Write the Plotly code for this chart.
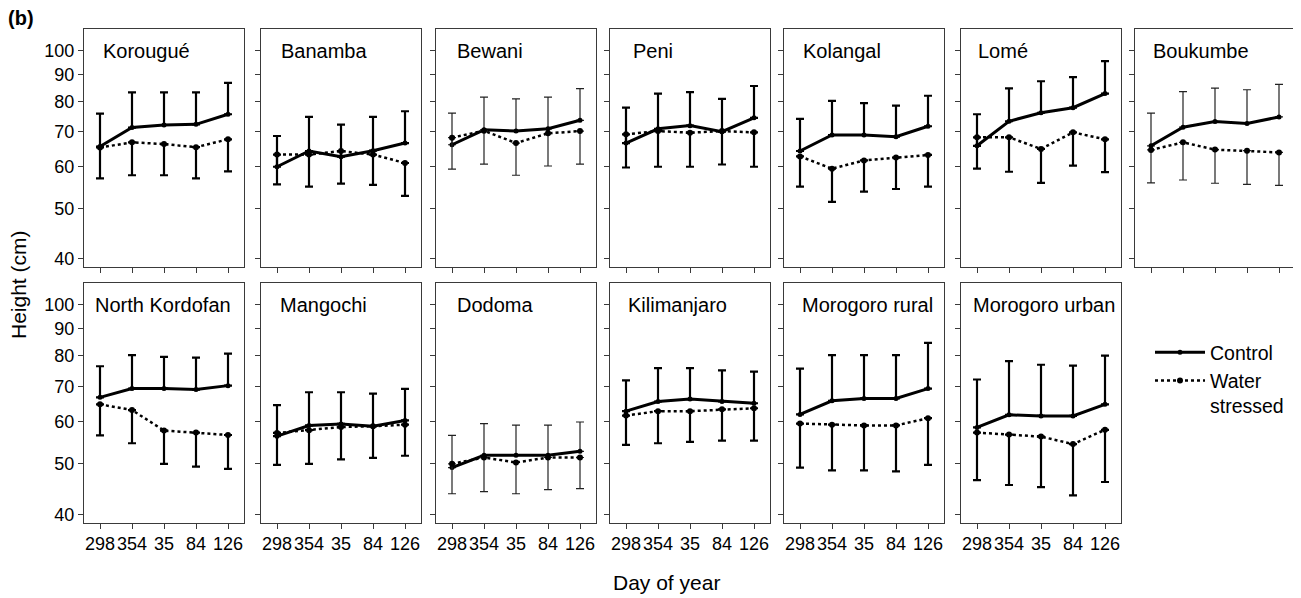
import math
import plotly.graph_objects as go

# ---------------- data ----------------
days = ["298", "354", "35", "84", "126"]
sites = ["Korougué", "Banamba", "Bewani", "Peni", "Kolangal", "Lomé", "Boukumbe",
         "North Kordofan", "Mangochi", "Dodoma", "Kilimanjaro", "Morogoro rural", "Morogoro urban"]

control_mean = [
    [65.6, 71.3, 72.1, 72.3, 75.6],
    [60.0, 64.3, 62.7, 64.4, 66.6],
    [66.1, 70.6, 70.2, 70.9, 73.6],
    [66.6, 70.9, 71.9, 70.0, 74.4],
    [64.3, 69.0, 69.0, 68.5, 71.7],
    [65.8, 73.3, 76.1, 77.8, 82.8],
    [65.8, 71.4, 73.2, 72.6, 74.7],
    [66.7, 69.3, 69.3, 69.0, 70.2],
    [56.3, 59.0, 59.4, 58.8, 60.3],
    [49.1, 51.8, 51.8, 51.8, 52.7],
    [62.8, 65.5, 66.2, 65.5, 65.0],
    [61.9, 65.7, 66.4, 66.4, 69.3],
    [58.5, 61.8, 61.5, 61.5, 64.7],
]
control_upper = [
    [75.8, 83.2, 83.2, 83.2, 86.8],
    [68.7, 74.7, 72.2, 74.7, 76.6],
    [76.0, 81.5, 80.9, 81.5, 84.6],
    [77.8, 82.8, 83.3, 80.9, 85.6],
    [74.1, 80.2, 79.4, 78.5, 82.0],
    [75.6, 84.7, 87.4, 89.0, 95.5],
    [76.0, 83.5, 84.8, 84.2, 86.2],
    [76.4, 80.2, 79.6, 79.3, 80.7],
    [64.5, 68.2, 68.2, 67.8, 69.2],
    [56.5, 59.5, 59.1, 59.1, 59.9],
    [71.8, 75.8, 75.8, 75.0, 74.6],
    [75.6, 80.2, 80.2, 80.2, 84.6],
    [72.1, 78.1, 76.9, 76.6, 80.0],
]
stressed_mean = [
    [65.3, 66.8, 66.3, 65.4, 67.7],
    [63.3, 63.3, 64.3, 63.3, 61.0],
    [68.2, 70.3, 66.6, 69.5, 70.2],
    [69.2, 70.2, 69.7, 70.2, 69.8],
    [62.8, 59.5, 61.7, 62.5, 63.2],
    [68.3, 68.3, 64.9, 69.8, 67.7],
    [64.6, 66.8, 64.7, 64.4, 63.9],
    [64.7, 63.1, 57.7, 57.2, 56.6],
    [57.1, 57.8, 58.6, 58.8, 59.2],
    [49.9, 51.3, 50.2, 51.3, 51.3],
    [61.6, 62.8, 62.8, 63.3, 63.6],
    [59.5, 59.2, 59.0, 59.0, 60.9],
    [57.2, 56.7, 56.2, 54.4, 57.9],
]
stressed_lower = [
    [57.0, 57.8, 57.8, 57.0, 58.8],
    [55.5, 55.0, 55.7, 55.4, 52.8],
    [59.4, 60.7, 57.8, 60.2, 60.7],
    [59.8, 60.0, 60.0, 60.6, 60.0],
    [55.0, 51.4, 53.8, 54.4, 55.0],
    [59.5, 58.7, 55.9, 60.3, 58.6],
    [55.9, 56.6, 55.8, 55.5, 55.3],
    [56.5, 54.6, 49.9, 49.3, 48.8],
    [49.7, 49.9, 50.9, 51.2, 51.7],
    [43.8, 44.2, 43.8, 44.6, 44.8],
    [54.2, 54.6, 54.9, 55.2, 55.2],
    [49.1, 48.5, 48.5, 48.3, 49.7],
    [46.5, 45.5, 45.1, 43.5, 46.1],
]
y_ticks = [40, 50, 60, 70, 80, 90, 100]

# ---------------- layout geometry (page pixels) ----------------
PAGE_W, PAGE_H = 1301, 598
OFF = 8                      # default body margin of the page
W, H = PAGE_W - OFF, PAGE_H - OFF


def px(xp):
    return (xp - OFF) / W


def py(yp):
    return 1 - (yp - OFF) / H


col_left = [84, 261, 436, 610, 784, 961, 1135]
panel_w = 160
row_top = [29, 282.7]
row_bot = [267, 522.7]
title_dx = [17, 18, 19, 21, 17, 15, 16, 9, 17, 19, 16, 16, 10]
thin_err = {2, 6, 9}
FONT = "Liberation Sans, Arial, sans-serif"

fig = go.Figure()
annotations = []
for i, site in enumerate(sites):
    r, c = divmod(i, 7)
    n = i + 1
    xa = "x" if n == 1 else f"x{n}"
    ya = "y" if n == 1 else f"y{n}"
    ew = 1.2 if i in thin_err else 2.2
    ec = "#222222" if i in thin_err else "black"
    cm, cu = control_mean[i], control_upper[i]
    sm, sl = stressed_mean[i], stressed_lower[i]
    fig.add_trace(go.Scatter(
        x=days, y=cm, xaxis=xa, yaxis=ya, name="Control", legendgroup="c",
        showlegend=(i == 0), mode="lines+markers",
        line=dict(color="black", width=3), marker=dict(color="black", size=5),
        error_y=dict(type="data", symmetric=False,
                     array=[u - m for u, m in zip(cu, cm)], arrayminus=[0] * 5,
                     color=ec, thickness=ew, width=4)))
    fig.add_trace(go.Scatter(
        x=days, y=sm, xaxis=xa, yaxis=ya, name="Water<br>stressed", legendgroup="w",
        showlegend=(i == 0), mode="lines+markers",
        line=dict(color="black", width=2.5, dash="dot"), marker=dict(color="black", size=6),
        error_y=dict(type="data", symmetric=False,
                     array=[0] * 5, arrayminus=[m - l for m, l in zip(sm, sl)],
                     color=ec, thickness=ew, width=4)))

    x0 = px(col_left[c])
    x1 = px(col_left[c] + panel_w)
    y0 = py(row_bot[r])
    y1 = py(row_top[r])
    axis_common = dict(showline=True, mirror=True, linecolor="#3a3a3a", linewidth=1.3,
                       ticks="outside", ticklen=5, tickwidth=1, tickcolor="#3a3a3a",
                       showgrid=False, zeroline=False, automargin=False,
                       tickfont=dict(family=FONT, size=18, color="black"))
    xkey = "xaxis" if n == 1 else f"xaxis{n}"
    ykey = "yaxis" if n == 1 else f"yaxis{n}"
    fig.layout[xkey] = dict(domain=[x0, x1], anchor=ya, type="category",
                            categoryorder="array", categoryarray=days,
                            range=[-0.5, 4.5], showticklabels=(r == 1),
                            tickangle=0, **axis_common)
    fig.layout[ykey] = dict(domain=[y0, y1], anchor=xa, type="log",
                            range=[math.log10(38.6), math.log10(110)],
                            tickvals=y_ticks, ticktext=[str(v) for v in y_ticks],
                            showticklabels=(c == 0), **axis_common)
    annotations.append(dict(
        text=site, xref="paper", yref="paper",
        x=px(col_left[c] + title_dx[i]), y=py(row_top[r] + 22),
        xanchor="left", yanchor="middle", showarrow=False,
        font=dict(family=FONT, size=20, color="black")))

annotations += [
    dict(text="Height (cm)", xref="paper", yref="paper", x=px(18), y=py(285),
         textangle=-90, showarrow=False, xanchor="center", yanchor="middle",
         font=dict(family=FONT, size=21, color="black")),
    dict(text="Day of year", xref="paper", yref="paper", x=px(666), y=py(582),
         showarrow=False, xanchor="center", yanchor="middle",
         font=dict(family=FONT, size=21, color="black")),
    dict(text="<b>(b)</b>", xref="paper", yref="paper", x=px(21), y=py(18),
         showarrow=False, xanchor="center", yanchor="middle",
         font=dict(family=FONT, size=20, color="black")),
]

fig.update_layout(
    width=W, height=H, autosize=False,
    margin=dict(l=0, r=0, t=0, b=0),
    paper_bgcolor="white", plot_bgcolor="white",
    template="none",
    annotations=annotations,
    showlegend=True,
    legend=dict(x=px(1150), y=py(333), xanchor="left", yanchor="top",
                valign="top", bgcolor="rgba(0,0,0,0)", borderwidth=0,
                font=dict(family=FONT, size=19.5, color="black"),
                itemwidth=50, tracegroupgap=0),
)

fig.write_html("out.html")
